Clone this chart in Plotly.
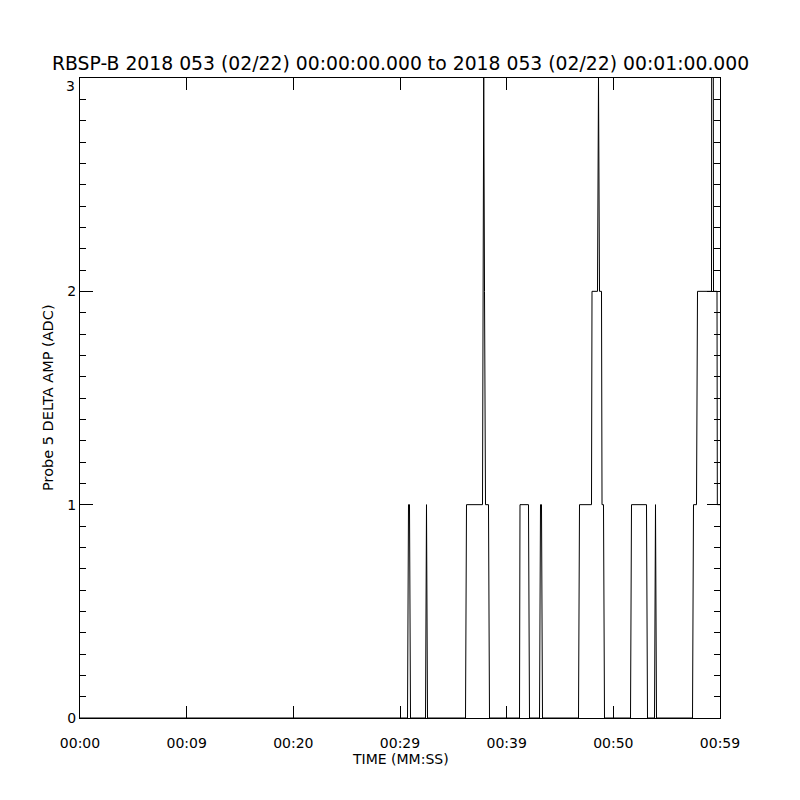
import plotly.graph_objects as go

# ---- data (seconds from 00:00:00, ADC counts) ----
time_s = [0.0, 30.703, 30.797, 30.891, 30.984,
          32.391, 32.484, 32.578,
          36.141, 36.234, 37.734, 37.81, 37.85, 37.922, 38.016, 38.297, 38.391,
          41.203, 41.25, 42.047, 42.141,
          43.078, 43.172, 43.266, 43.359,
          46.734, 46.828, 47.953, 48.0, 48.516, 48.55, 48.609, 48.703, 48.891, 48.94, 49.078, 49.172,
          51.609, 51.703, 53.109, 53.203,
          53.859, 53.953, 54.047,
          57.422, 57.516, 57.797, 57.891, 59.203, 59.297, 59.391, 59.72, 59.75, 60.0]
delta_amp = [0, 0, 1, 1, 0,
             0, 1, 0,
             0, 1, 1, 2, 3, 2, 1, 1, 0,
             0, 1, 1, 0,
             0, 1, 1, 0,
             0, 1, 1, 2, 2, 3, 3, 2, 2, 1, 1, 0,
             0, 1, 1, 0,
             0, 1, 0,
             0, 1, 1, 2, 2, 8, 2, 2, 1, 1]

x_tick_vals = [0, 10, 20, 30, 40, 50, 60]
x_tick_text = ["00:00", "00:09", "00:20", "00:29", "00:39", "00:50", "00:59"]
y_tick_vals = [0, 1, 2, 3]
y_tick_text = ["0", "1", "2", "3"]

title_text = "RBSP-B 2018 053 (02/22) 00:00:00.000 to 2018 053 (02/22) 00:01:00.000"
x_title = "TIME (MM:SS)"
y_title = "Probe 5 DELTA AMP (ADC)"

FONT = "DejaVu Sans"

fig = go.Figure()
fig.add_trace(go.Scatter(x=time_s, y=delta_amp, mode="lines",
                         line=dict(color="black", width=1), hoverinfo="skip",
                         showlegend=False))

# the top tick label sits just below the top axis in the reference,
# so it is drawn as an annotation; the rest come from the axis itself
axis_y_text = y_tick_text[:-1] + [""]

# page body has an 8px margin, so the figure is 792x792 and the plot area
# ends up at 80..720 x 78..718 in the 800x800 window
fig.update_layout(
    width=792, height=792,
    margin=dict(l=72, r=80, t=70, b=82, pad=0),
    paper_bgcolor="white", plot_bgcolor="white",
    showlegend=False,
    xaxis=dict(range=[0, 60], tickvals=x_tick_vals, ticktext=x_tick_text,
               ticks="inside", ticklen=12, tickwidth=1, tickcolor="black",
               showline=True, linecolor="black", linewidth=1, mirror="ticks",
               showgrid=False, zeroline=False, ticklabelstandoff=12,
               tickfont=dict(family=FONT, size=14, color="black")),
    yaxis=dict(range=[0, 3], tickvals=y_tick_vals, ticktext=axis_y_text,
               ticks="inside", ticklen=13, tickwidth=1, tickcolor="black",
               showline=True, linecolor="black", linewidth=1, mirror="ticks",
               showgrid=False, zeroline=False, ticklabelstandoff=0,
               minor=dict(dtick=0.1, ticks="inside", ticklen=6, tickcolor="black",
                          tickwidth=1, showgrid=False),
               tickfont=dict(family=FONT, size=14, color="black")),
)

fig.add_annotation(text=y_tick_text[-1], x=0, xref="paper", xanchor="right", xshift=-3,
                   y=y_tick_vals[-1], yref="y", yanchor="middle", yshift=-8,
                   showarrow=False, font=dict(family=FONT, size=14, color="black"))

plot_w, plot_h = 640, 640
fig.add_annotation(text=title_text, x=0.5, y=1 + (78 - 64) / plot_h,
                   xref="paper", yref="paper", yanchor="middle",
                   showarrow=False, font=dict(family=FONT, size=18.8, color="black"))
fig.add_annotation(text=x_title, x=0.5, y=-(759 - 718) / plot_h,
                   xref="paper", yref="paper", yanchor="middle",
                   showarrow=False, font=dict(family=FONT, size=14, color="black"))
fig.add_annotation(text=y_title, x=-(80 - 48) / plot_w, y=0.5,
                   xref="paper", yref="paper", xanchor="center", yanchor="middle",
                   textangle=-90, showarrow=False,
                   font=dict(family=FONT, size=14.5, color="black"))

fig.write_html("out.html")
